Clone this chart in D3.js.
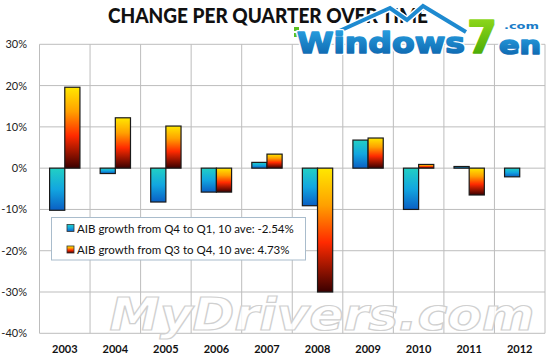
<!DOCTYPE html>
<html><head><meta charset="utf-8">
<script src="https://cdn.jsdelivr.net/npm/d3@7"></script>
<style>body{margin:0;background:#fff}svg{display:block}</style>
</head><body>
<svg id="c" width="550" height="357"></svg>
<script>
const years = ["2003","2004","2005","2006","2007","2008","2009","2010","2011","2012"];
const q4toQ1 = [-10.2,-1.3,-8.2,-5.8,1.4,-9.1,6.8,-10.0,0.4,-2.1];
const q3toQ4 = [19.6,12.2,10.2,-5.8,3.4,-30.0,7.3,0.9,-6.5,null];
const seriesNames = ["AIB growth from Q4 to Q1, 10 ave: -2.54%","AIB growth from Q3 to Q4, 10 ave: 4.73%"];
const yTicks = [-40,-30,-20,-10,0,10,20,30];
const title = "CHANGE PER QUARTER OVER TIME";

const svg = d3.select("#c");
const font = "Lato, 'Open Sans', sans-serif";
const L=39.5, R=545, T=44.3, B=333.3;

const defs = svg.append("defs");
const gb = defs.append("linearGradient").attr("id","gBlue").attr("x1",0).attr("x2",0).attr("y1",0).attr("y2",1);
gb.append("stop").attr("offset","0%").attr("stop-color","#22d0c4");
gb.append("stop").attr("offset","50%").attr("stop-color","#12a6e0");
gb.append("stop").attr("offset","100%").attr("stop-color","#0a5fc4");
const go = defs.append("linearGradient").attr("id","gOrange").attr("x1",0).attr("x2",0).attr("y1",0).attr("y2",1);
go.append("stop").attr("offset","0%").attr("stop-color","#ffe800");
go.append("stop").attr("offset","30%").attr("stop-color","#ffa000");
go.append("stop").attr("offset","60%").attr("stop-color","#ff2a00");
go.append("stop").attr("offset","100%").attr("stop-color","#3a0000");
const gLogo = defs.append("linearGradient").attr("id","gLogo").attr("x1",0).attr("x2",0).attr("y1",0).attr("y2",1);
gLogo.append("stop").attr("offset","0%").attr("stop-color","#2aa6e6");
gLogo.append("stop").attr("offset","100%").attr("stop-color","#0a5fa8");
const g7 = defs.append("linearGradient").attr("id","g7").attr("x1",0).attr("x2",0).attr("y1",0).attr("y2",1);
g7.append("stop").attr("offset","0%").attr("stop-color","#9be020");
g7.append("stop").attr("offset","100%").attr("stop-color","#3aa000");

const x = d3.scaleBand().domain(years).range([L,R]).padding(0);
const bw = x.bandwidth();
const x1 = d3.scaleBand().domain([0,1]).range([bw*0.2, bw*0.8]).padding(0);
const y = d3.scaleLinear().domain([-40,30]).range([B,T]);

// gridlines
const grid = svg.append("g");
grid.selectAll("line.h").data(yTicks).join("line")
  .attr("x1",L).attr("x2",R).attr("y1",d=>y(d)).attr("y2",d=>y(d))
  .attr("stroke","#bdbdbd").attr("stroke-width",1);
const bounds = years.map(d=>x(d)).concat([R]);
grid.selectAll("line.v").data(bounds).join("line")
  .attr("x1",d=>d).attr("x2",d=>d).attr("y1",T).attr("y2",B)
  .attr("stroke","#bdbdbd").attr("stroke-width",1);

// y axis labels
svg.append("g").selectAll("text").data(yTicks).join("text")
  .attr("x",27).attr("y",d=>y(d)+4).attr("text-anchor","end")
  .attr("font-family",font).attr("font-size",11).attr("fill","#222")
  .text(d=>d+"%");

// x axis labels
svg.append("g").selectAll("text").data(years).join("text")
  .attr("x",d=>x(d)+bw/2).attr("y",353).attr("text-anchor","middle")
  .attr("font-family",font).attr("font-weight","bold").attr("font-size",11).attr("fill","#111")
  .text(d=>d);

// watermark MyDrivers.com
svg.append("text").attr("x",322).attr("y",330).attr("text-anchor","middle")
  .attr("font-family","'DejaVu Sans', sans-serif").attr("font-weight","bold").attr("font-style","italic")
  .attr("font-size",44).attr("fill","#fff").attr("fill-opacity",0.85)
  .attr("stroke","#d0d0d0").attr("stroke-width",1.2)
  .attr("textLength",425).attr("lengthAdjust","spacingAndGlyphs")
  .text("MyDrivers.com");

// bars
const series = [q4toQ1, q3toQ4];
const fills = ["url(#gBlue)","url(#gOrange)"];
series.forEach((vals,si)=>{
  svg.append("g").selectAll("rect")
    .data(years.map((yr,i)=>({yr,v:vals[i]})).filter(d=>d.v!==null && d.v!==undefined))
    .join("rect")
    .attr("x",d=>x(d.yr)+x1(si))
    .attr("width",x1.bandwidth())
    .attr("y",d=>y(Math.max(0,d.v)))
    .attr("height",d=>Math.max(0.5,Math.abs(y(d.v)-y(0))))
    .attr("fill",fills[si]).attr("stroke","#1a1a1a").attr("stroke-width",1.2);
});

// legend
const lg = svg.append("g");
lg.append("rect").attr("x",51.5).attr("y",217.5).attr("width",254).attr("height",42.5)
  .attr("fill","#fff").attr("stroke","#a9bccc").attr("stroke-width",1);
seriesNames.forEach((n,i)=>{
  const cy = 228.5 + i*21.5;
  lg.append("rect").attr("x",67).attr("y",cy-4).attr("width",7).attr("height",7)
    .attr("fill",fills[i]).attr("stroke","#333").attr("stroke-width",0.8);
  lg.append("text").attr("x",77).attr("y",cy+4).attr("font-family",font).attr("font-size",11.5)
    .attr("fill","#111").text(n);
});

// title
svg.append("text").attr("x",268).attr("y",23).attr("text-anchor","middle")
  .attr("font-family",font).attr("font-weight","900").attr("font-size",20).attr("fill","#111")
  .attr("textLength",320).attr("lengthAdjust","spacingAndGlyphs")
  .text(title);

// logo Windows7en.com
const logo = svg.append("g");
const roof = "M335,33 L390,8 L407,20 L423,6 L466,32";
logo.append("path").attr("d",roof)
  .attr("fill","none").attr("stroke","#fff").attr("stroke-width",7).attr("stroke-linejoin","miter");
logo.append("path").attr("d",roof)
  .attr("fill","none").attr("stroke","#1e8ad0").attr("stroke-width",4).attr("stroke-linejoin","miter");
logo.append("rect").attr("x",294).attr("y",27).attr("width",5).attr("height",4).attr("fill","#5cc020");
logo.append("rect").attr("x",294).attr("y",33).attr("width",5).attr("height",4).attr("fill","#5cc020");
logo.append("rect").attr("x",300).attr("y",33).attr("width",4).attr("height",4).attr("fill","#5cc020");
function logoText(t, xx, yy, fs, w, fill){
  logo.append("text").attr("x",xx).attr("y",yy)
    .attr("font-family","'DejaVu Sans', sans-serif").attr("font-weight","bold").attr("font-size",fs)
    .attr("fill","none").attr("stroke","#fff").attr("stroke-width",4).attr("stroke-linejoin","round")
    .attr("textLength",w).attr("lengthAdjust","spacingAndGlyphs").text(t);
  logo.append("text").attr("x",xx).attr("y",yy)
    .attr("font-family","'DejaVu Sans', sans-serif").attr("font-weight","bold").attr("font-size",fs)
    .attr("fill",fill).attr("stroke",fill).attr("stroke-width",1.6).attr("stroke-linejoin","round")
    .attr("textLength",w).attr("lengthAdjust","spacingAndGlyphs").text(t);
}
logoText("Windows",297,53,29,168,"url(#gLogo)");
logoText("7",467,53,45,30,"url(#g7)");
logoText("en",499,53.5,24,42,"url(#gLogo)");
logo.append("text").attr("x",504).attr("y",29)
  .attr("font-family","'DejaVu Sans', sans-serif").attr("font-weight","bold").attr("font-size",9)
  .attr("fill","#1a7cc8").attr("textLength",35).attr("lengthAdjust","spacingAndGlyphs").text(".com");
</script>
</body></html>
